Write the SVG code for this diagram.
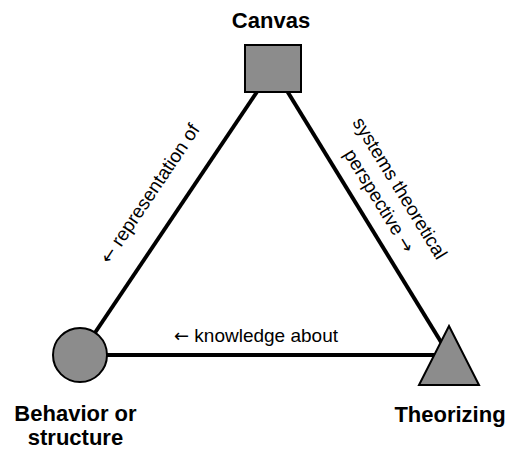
<svg xmlns="http://www.w3.org/2000/svg" width="509" height="454" viewBox="0 0 509 454">
  <style>
    .edge { stroke: #000; stroke-width: 4; fill: none; }
    .shape { fill: #8c8c8c; stroke: #000; stroke-width: 2; }
    .title { font-family: "Liberation Sans", Arial, Helvetica, sans-serif; font-weight: bold; font-size: 22px; fill: #000; text-anchor: middle; }
    .label { font-family: "Liberation Sans", Arial, Helvetica, sans-serif; font-size: 19px; fill: #000; text-anchor: middle; }
    .arrow { font-family: "DejaVu Sans", sans-serif; font-size: 18px; }
  </style>
  <rect width="509" height="454" fill="#fff"/>

  <!-- connectors run centre to centre, beneath the node shapes -->
  <g id="connectors">
    <line class="edge" x1="273" y1="68" x2="80" y2="355"/>
    <line class="edge" x1="273" y1="68" x2="449" y2="355"/>
    <line class="edge" x1="80" y1="355" x2="449" y2="355"/>
    <text class="label" transform="translate(155,197) rotate(-56.1)"><tspan class="arrow">←</tspan> representation of</text>
    <g transform="translate(374,204) rotate(58.5)">
      <text class="label" x="0" y="-24">systems theoretical</text>
      <text class="label" x="0" y="0">perspective <tspan class="arrow">→</tspan></text>
    </g>
    <text class="label" x="256" y="342"><tspan class="arrow">←</tspan> knowledge about</text>
  </g>

  <g id="canvas">
    <rect class="shape" x="245" y="45" width="56" height="47"/>
    <text class="title" x="271" y="28">Canvas</text>
  </g>

  <g id="behavior">
    <circle class="shape" cx="80" cy="355" r="27"/>
    <text class="title" x="75.5" y="420.5">Behavior or</text>
    <text class="title" x="75.5" y="445">structure</text>
  </g>

  <g id="theorizing">
    <polygon class="shape" points="449,326 479,385 419,385"/>
    <text class="title" x="450" y="422">Theorizing</text>
  </g>
</svg>
